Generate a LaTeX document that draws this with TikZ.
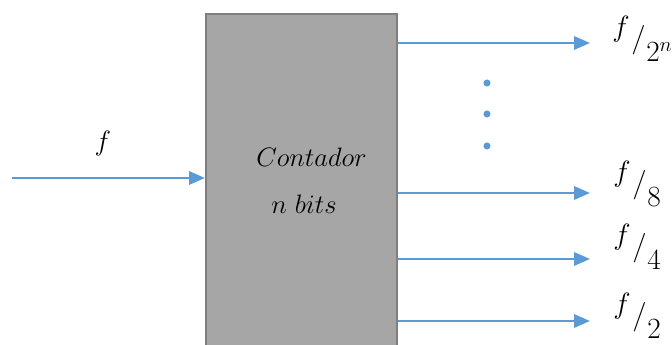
\RequirePackage{fix-cm}
\documentclass[tikz,border=0pt]{standalone}
\usetikzlibrary{arrows.meta}
\definecolor{sigblue}{HTML}{5B9BD5}
\definecolor{boxfill}{HTML}{A6A6A6}
\definecolor{boxline}{HTML}{7F7F7F}
% frequency ratio f / d with raised f and lowered divisor
\newcommand{\fdiv}[1]{\raisebox{0.86em}{$f$}\kern0.06em\raisebox{0.50em}{$/$}\kern0.02em$#1$}
\begin{document}
\begin{tikzpicture}[x=0.75pt,y=-0.75pt,
  sig/.style={draw=sigblue,line width=1.8pt,-{Triangle[length=12pt,width=10pt]}},
  lbl/.style={inner sep=0pt,font=\fontsize{21}{25}\selectfont},
  ratio/.style={inner sep=0pt,font=\fontsize{22}{26}\selectfont,anchor=base west},
  dotmark/.style={circle,fill=sigblue,inner sep=0pt,minimum size=5.3pt}]
\useasboundingbox (0,0) rectangle (672,345);
\clip (0,0) rectangle (672,345);
% counter block (runs past the lower edge)
\node[draw=boxline,fill=boxfill,line width=1.5pt,inner sep=0pt,
      minimum width=191*0.75pt,minimum height=360*0.75pt,anchor=north west]
      (cnt) at (205,13) {};
\node[lbl,font=\fontsize{20}{24}\selectfont,anchor=base west] (t1) at (256,167) {$Contador$};
\node[lbl,font=\fontsize{20}{24}\selectfont,anchor=base west] (t2) at (271,214) {$n\ bits$};
% input clock
\coordinate (in) at (12,178);
\draw[sig] (in) -- (in -| cnt.west);
\node[lbl,anchor=base] (fin) at (103,151) {$f$};
% outputs
\coordinate (o1) at (590,43);
\coordinate (o2) at (590,193);
\coordinate (o3) at (590,259);
\coordinate (o4) at (590,321);
\draw[sig] (o1 -| cnt.east) -- (o1);
\draw[sig] (o2 -| cnt.east) -- (o2);
\draw[sig] (o3 -| cnt.east) -- (o3);
\draw[sig] (o4 -| cnt.east) -- (o4);
\node[dotmark] (d1) at (487,83) {};
\node[dotmark] (d2) at (487,114) {};
\node[dotmark] (d3) at (487,146) {};
% output labels
\node[ratio] (l1) at (612,62) {\fdiv{2^n}};
\node[ratio] (l2) at (613,207) {\fdiv{8}};
\node[ratio] (l3) at (613,270) {\fdiv{4}};
\node[ratio] (l4) at (613,339) {\fdiv{2}};
\end{tikzpicture}
\end{document}
